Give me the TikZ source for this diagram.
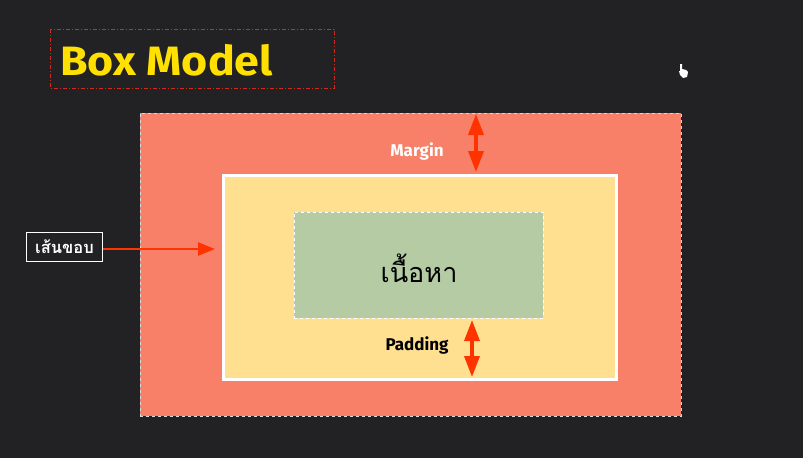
\documentclass[tikz,border=0pt]{standalone}
\usepackage{fontspec}
\setmainfont{Fira Sans}
\newfontfamily\thaifont[Script=Thai]{Loma}
\newfontfamily\titlefont{Fira Sans}
\usetikzlibrary{arrows.meta}
\definecolor{bg}{HTML}{222224}
\definecolor{marginc}{HTML}{F88068}
\definecolor{borderc}{HTML}{FFDF90}
\definecolor{contentc}{HTML}{B4CBA4}
\definecolor{arrowc}{HTML}{FF3300}
\definecolor{titlec}{HTML}{FFE000}
\definecolor{dashred}{HTML}{D42A1E}
\tikzset{
  dimarrow/.style={draw=arrowc, line width=3.5pt, {Triangle[width=15pt,length=21pt]}-{Triangle[width=15pt,length=21pt]}},
  ptrarrow/.style={draw=arrowc, line width=2.5pt, -{Triangle[width=13pt,length=17pt]}},
  lbl/.style={font=\bfseries\fontsize{17}{20}\selectfont, inner sep=0pt}
}
\begin{document}
\begin{tikzpicture}[x=1pt,y=-1pt]
\fill[bg] (0,0) rectangle (803,458);
\useasboundingbox (0,0) rectangle (803,458);
% title
\draw[dashred, line width=0.8pt, dash pattern=on 4pt off 2pt on 1pt off 2pt] (50,29) rectangle (334,88);
\node[anchor=west, inner sep=0pt, text=titlec, xscale=1.09, font=\titlefont\bfseries\fontsize{41}{44}\selectfont] (title) at (60,60) {Box Model};
% margin
\node[draw=white!85!black, dashed, line width=0.8pt, fill=marginc, minimum width=541pt, minimum height=303pt, inner sep=0pt, anchor=north west] (margin) at (140,113) {};
% border box
\node[draw=white, line width=3pt, fill=borderc, minimum width=393pt, minimum height=204pt, inner sep=0pt, anchor=north west] (border) at (222,174) {};
% content
\node[draw=white, dashed, line width=0.8pt, fill=contentc, minimum width=249pt, minimum height=106pt, inner sep=0pt, anchor=north west] (content) at (294,212) {};
\node[inner sep=0pt, font=\thaifont\fontsize{27}{30}\selectfont] (ctext) at (419,268) {เนื้อหา};
% labels
\node[lbl, text=white] (mlabel) at (417,151) {Margin};
\node[lbl, text=black] (plabel) at (417,345) {Padding};
% arrows
\coordinate (mtop) at (476,114);
\coordinate (mbot) at (476,172);
\draw[dimarrow] (mtop) -- (mbot);
\coordinate (ptop) at (472,320);
\coordinate (pbot) at (472,377);
\draw[dimarrow] (ptop) -- (pbot);
% border label
\node[draw=white, line width=1pt, fill=bg, text=white, minimum width=76pt, minimum height=29pt, inner sep=0pt, anchor=north west, font=\thaifont\bfseries\fontsize{16.5}{19}\selectfont] (blabel) at (26,232) {เส้นขอบ};
\coordinate (btip) at (215,249);
\draw[ptrarrow] (blabel.east |- btip) -- (btip);
% cursor
\fill[white] (680,64) -- (682,64) -- (682,69) -- (686,70) -- (688,72) -- (687,77) -- (683,78) -- (680,75) -- (679,71) -- (680,71) -- cycle;
\end{tikzpicture}
\end{document}
